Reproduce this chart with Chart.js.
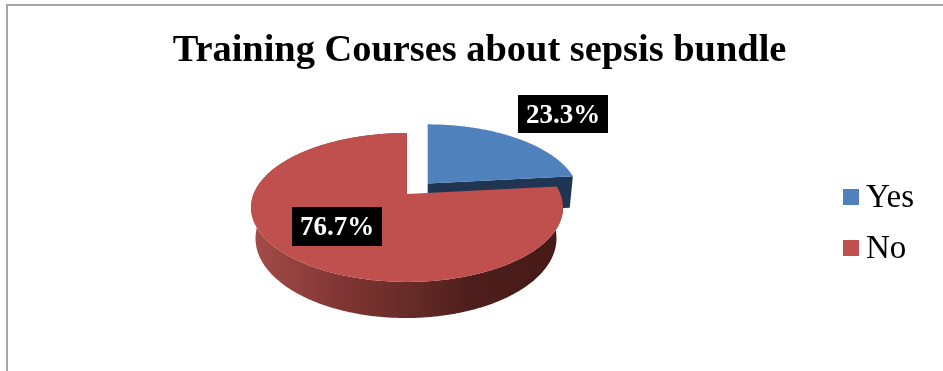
<!DOCTYPE html>
<html>
<head>
<meta charset="utf-8">
<style>
  html, body { margin: 0; padding: 0; background: #fff; overflow: hidden; }
  #frame { position: absolute; left: 6px; top: 4px; width: 960px; height: 420px; border: 2px solid #a6a6a6; }
  #wrap { position: absolute; left: 0; top: 0; width: 943px; height: 371px; }
</style>
</head>
<body>
<div id="frame"></div>
<div id="wrap"><canvas id="chart" width="943" height="371"></canvas></div>
<script src="https://cdn.jsdelivr.net/npm/chart.js@4"></script>
<script>
const categories = ['Yes', 'No'];
const shares = [23.3, 76.7];
const faceColors = ['#4f81bd', '#c0504d'];
const titleText = 'Training Courses about sepsis bundle';

const SERIF = '"Liberation Serif", "Times New Roman", serif';

// Chart.js only gives a flat circle, so the tilted 3D look is projected here from each arc's angles
const K = 0.181;
const TOP = { a: 153.4, b: 72, dx: 0, dy: 0 };
const BOTTOM = { a: 148, b: 77, dx: -1, dy: 30 };
const SLICES = [
  { cx: 427.7, cy: 183.5, scale: 0.97 },
  { cx: 407, cy: 194, scale: 1 },
];
const LABEL_BOXES = [
  { x: 518, y: 95, w: 90, h: 38 },
  { x: 292, y: 207, w: 90, h: 39 },
];

function project(slice, plane, angle, r = 1) {
  const u = Math.cos(angle) * r;
  const v = -Math.sin(angle) * r;
  const w = 1 + K * v;
  return [
    slice.cx + plane.dx + slice.scale * plane.a * u / w,
    slice.cy + plane.dy - slice.scale * plane.b * v / w,
  ];
}

function traceRim(ctx, slice, plane, from, to) {
  const steps = Math.ceil(Math.abs(to - from) / 0.01);
  for (let i = 0; i <= steps; i++) {
    const p = project(slice, plane, from + (to - from) * i / steps);
    ctx.lineTo(p[0], p[1]);
  }
}

function drawFace(ctx, slice, arc, color) {
  ctx.beginPath();
  ctx.moveTo(slice.cx, slice.cy);
  traceRim(ctx, slice, TOP, arc.startAngle, arc.endAngle);
  ctx.closePath();
  ctx.fillStyle = color;
  ctx.fill();
}

const pie3d = {
  id: 'pie3d',
  beforeDatasetsDraw(chart) {
    const ctx = chart.ctx;
    const arcs = chart.getDatasetMeta(0).data;
    const colors = chart.data.datasets[0].backgroundColor;
    ctx.save();

    // Yes: dark cut wall, then its face
    const yes = arcs[0];
    const sy = SLICES[0];
    const tipTop = project(sy, TOP, yes.endAngle);
    const tipBottom = project(sy, BOTTOM, yes.endAngle);
    ctx.beginPath();
    ctx.moveTo(sy.cx, sy.cy);
    ctx.lineTo(tipTop[0], tipTop[1]);
    ctx.lineTo(tipBottom[0] + 3, tipBottom[1] + 2);
    ctx.lineTo(sy.cx, sy.cy + BOTTOM.dy);
    ctx.closePath();
    ctx.fillStyle = '#1f3552';
    ctx.fill();
    drawFace(ctx, sy, yes, colors[0]);

    // No: shaded outer wall, then its face
    const no = arcs[1];
    const sn = SLICES[1];
    const wall = ctx.createLinearGradient(250, 0, 562, 0);
    wall.addColorStop(0, '#a64c49');
    wall.addColorStop(0.3, '#7f3533');
    wall.addColorStop(0.55, '#622926');
    wall.addColorStop(0.72, '#4c1d1b');
    wall.addColorStop(1, '#461a18');
    ctx.beginPath();
    const start = project(sn, TOP, no.startAngle);
    ctx.moveTo(start[0], start[1]);
    traceRim(ctx, sn, TOP, no.startAngle, no.endAngle);
    traceRim(ctx, sn, BOTTOM, no.endAngle, no.startAngle);
    ctx.closePath();
    ctx.fillStyle = wall;
    ctx.fill();
    drawFace(ctx, sn, no, colors[1]);

    ctx.restore();
    return false;
  },
  afterDraw(chart) {
    const ctx = chart.ctx;
    const values = chart.data.datasets[0].data;
    const colors = chart.data.datasets[0].backgroundColor;
    ctx.save();

    // value labels on black boxes
    ctx.textAlign = 'center';
    ctx.textBaseline = 'middle';
    ctx.font = 'bold 27px ' + SERIF;
    values.forEach((v, i) => {
      const box = LABEL_BOXES[i];
      ctx.fillStyle = '#000';
      ctx.fillRect(box.x, box.y, box.w, box.h);
      ctx.fillStyle = '#fff';
      ctx.fillText(v.toFixed(1) + '%', box.x + box.w / 2, box.y + box.h / 2 + 2);
    });

    // legend, built by hand because the stock one leaves too wide a gap after the swatch
    ctx.textAlign = 'left';
    ctx.font = '33px ' + SERIF;
    chart.data.labels.forEach((name, i) => {
      const y = 189 + i * 51;
      ctx.fillStyle = colors[i];
      ctx.fillRect(843, y, 16, 16);
      ctx.fillStyle = '#000';
      ctx.fillText(name, 866, y + 9);
    });
    ctx.restore();
  },
};

new Chart(document.getElementById('chart'), {
  type: 'pie',
  data: {
    labels: categories,
    datasets: [{ data: shares, backgroundColor: faceColors }],
  },
  options: {
    responsive: false,
    animation: false,
    layout: { padding: { left: 16 } },
    plugins: {
      legend: { display: false },
      tooltip: { enabled: false },
      title: {
        display: true,
        text: titleText,
        color: '#000',
        font: { family: SERIF, size: 38.4, weight: 'bold' },
        padding: { top: 28, bottom: 8 },
      },
    },
  },
  plugins: [pie3d],
});
</script>
</body>
</html>
